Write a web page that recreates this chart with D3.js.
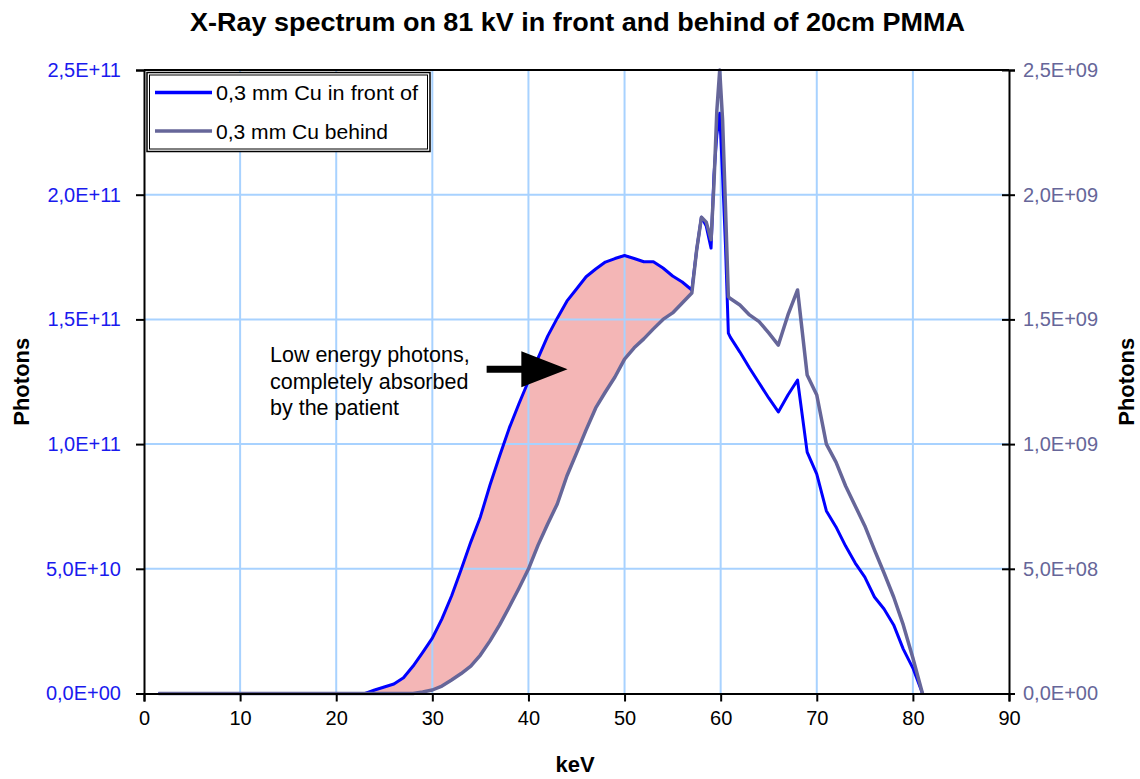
<!DOCTYPE html>
<html>
<head>
<meta charset="utf-8">
<script src="https://cdn.jsdelivr.net/npm/d3@7"></script>
<style>
  body { margin: 0; background: #fff; }
  svg { display: block; }
  text { font-family: "Liberation Sans", Arial, Helvetica, sans-serif; }
</style>
</head>
<body>
<svg id="chart" width="1140" height="779"></svg>
<script>
// Photon energy (keV) sampling points shared by both spectra
const keV = [1.5, 23, 24, 25, 26, 27, 28, 29, 30, 31, 32, 33, 34, 35, 36, 37, 38, 39, 40,
  41, 42, 43, 44, 45, 46, 47, 48, 49, 50, 51, 52, 53, 54, 55, 56, 57,
  57.5, 58, 58.5, 59, 59.3, 59.6, 59.9, 60.2, 60.5, 60.8,
  61, 62, 63, 64, 65, 66, 67, 68, 69, 70, 71, 72, 73, 74, 75, 76, 77, 78, 79, 80, 81];

// Photons with 0.3 mm Cu filter, in front of the phantom (left axis)
const inFront = [0, 0, 0.14e10, 0.26e10, 0.38e10, 0.63e10, 1.10e10, 1.65e10, 2.22e10, 2.99e10, 3.91e10,
  4.97e10, 6.07e10, 7.08e10, 8.36e10, 9.52e10, 10.64e10, 11.61e10, 12.53e10,
  13.45e10, 14.33e10, 15.05e10, 15.73e10, 16.22e10, 16.71e10, 17.02e10, 17.30e10, 17.44e10, 17.56e10,
  17.44e10, 17.31e10, 17.31e10, 17.06e10, 16.74e10, 16.50e10, 16.18e10,
  17.78e10, 19.10e10, 18.74e10, 17.86e10, 20.79e10, 22.39e10, 23.27e10, 20.79e10, 17.98e10, 14.45e10,
  14.29e10, 13.69e10, 13.05e10, 12.45e10, 11.85e10, 11.29e10, 11.97e10, 12.57e10, 9.68e10, 8.80e10,
  7.32e10, 6.68e10, 5.91e10, 5.23e10, 4.67e10, 3.87e10, 3.39e10, 2.75e10, 1.78e10, 1.02e10, 0];

// Photons with 0.3 mm Cu filter, behind 20 cm PMMA (right axis)
const behind = [0, 0, 0, 0, 0, 0, 0, 0.06e8, 0.14e8, 0.30e8, 0.54e8,
  0.80e8, 1.10e8, 1.54e8, 2.11e8, 2.75e8, 3.47e8, 4.21e8, 4.99e8,
  5.95e8, 6.80e8, 7.60e8, 8.72e8, 9.64e8, 10.57e8, 11.45e8, 12.09e8, 12.69e8, 13.41e8,
  13.86e8, 14.22e8, 14.62e8, 15.00e8, 15.26e8, 15.66e8, 16.06e8,
  17.78e8, 19.10e8, 18.90e8, 18.20e8, 20.40e8, 23.35e8, 25.00e8, 23.00e8, 19.51e8, 15.91e8,
  15.84e8, 15.58e8, 15.18e8, 14.91e8, 14.46e8, 13.97e8, 15.18e8, 16.18e8, 12.77e8, 11.97e8,
  10.00e8, 9.28e8, 8.32e8, 7.52e8, 6.72e8, 5.76e8, 4.83e8, 3.87e8, 2.75e8, 1.42e8, 0];

const xTicks = [0, 10, 20, 30, 40, 50, 60, 70, 80, 90];
const leftTicks = [0, 5e10, 1e11, 1.5e11, 2e11, 2.5e11];
const rightTicks = [0, 5e8, 1e9, 1.5e9, 2e9, 2.5e9];
const seriesNames = ["0,3 mm Cu in front of", "0,3 mm Cu behind"];
const titleText = "X-Ray spectrum on 81 kV in front and behind of 20cm PMMA";
const noteLines = ["Low energy photons,", "completely absorbed", "by the patient"];
const absorbedUpTo = 57; // keV where the shaded band ends

const colFront = "#0000ff", colBehind = "#666699", colGrid = "#a8d2ff", colFill = "#f4b6b6";
const L = 144, R = 1009, T = 70, B = 693.5;

const x = d3.scaleLinear().domain([0, 90]).range([L, R]);
const yL = d3.scaleLinear().domain([0, 2.5e11]).range([B, T]);
const yR = d3.scaleLinear().domain([0, 2.5e9]).range([B, T]);

// Excel style scientific label, e.g. 2,5E+11
function sci(v) {
  if (v === 0) return "0,0E+00";
  const e = Math.floor(Math.log10(v) + 1e-9);
  const m = v / Math.pow(10, e);
  return m.toFixed(1).replace(".", ",") + "E+" + String(e).padStart(2, "0");
}

const svg = d3.select("#chart");
const rows = keV.map((k, i) => ({ k, f: inFront[i], b: behind[i] }));

// shaded band between the two spectra (absorbed photons)
const band = d3.area()
  .x(d => x(d.k))
  .y0(d => yR(d.b))
  .y1(d => yL(d.f));
svg.append("path")
  .datum(rows.filter(d => d.k >= 23 && d.k <= absorbedUpTo))
  .attr("d", band)
  .attr("fill", colFill);

// gridlines
const grid = svg.append("g").attr("stroke", colGrid).attr("stroke-width", 2);
grid.selectAll("line.v").data(xTicks.filter(t => t > 0 && t < 90)).join("line")
  .attr("x1", d => x(d)).attr("x2", d => x(d)).attr("y1", T).attr("y2", B);
grid.selectAll("line.h").data(leftTicks.filter(t => t > 0 && t < 2.5e11)).join("line")
  .attr("x1", L).attr("x2", R).attr("y1", d => yL(d)).attr("y2", d => yL(d));

// spectra
svg.append("path").datum(rows)
  .attr("d", d3.line().x(d => x(d.k)).y(d => yL(d.f)))
  .attr("fill", "none").attr("stroke", colFront).attr("stroke-width", 3)
  .attr("stroke-linejoin", "round");
svg.append("path").datum(rows)
  .attr("d", d3.line().x(d => x(d.k)).y(d => yR(d.b)))
  .attr("fill", "none").attr("stroke", colBehind).attr("stroke-width", 3.5)
  .attr("stroke-linejoin", "round");

// axes
const xAxis = svg.append("g").attr("transform", `translate(0,${B})`)
  .call(d3.axisBottom(x).tickValues(xTicks).tickSize(8).tickPadding(9).tickFormat(d3.format("d")));
const leftAxis = svg.append("g").attr("transform", `translate(${L},0)`)
  .call(d3.axisLeft(yL).tickValues(leftTicks).tickSize(8).tickPadding(15).tickFormat(sci));
const rightAxis = svg.append("g").attr("transform", `translate(${R},0)`)
  .call(d3.axisRight(yR).tickValues(rightTicks).tickSize(6).tickPadding(8).tickFormat(sci));
rightAxis.selectAll(".tick line").attr("x1", -7);

[xAxis, leftAxis, rightAxis].forEach(g => {
  g.select(".domain").attr("stroke", "#000").attr("stroke-width", 2);
  g.selectAll(".tick line").attr("stroke", "#000").attr("stroke-width", 2);
  g.selectAll("text").attr("font-size", 20).style("font-family", '"Liberation Sans", Arial, sans-serif');
});
xAxis.selectAll("text").attr("fill", "#000");
leftAxis.selectAll("text").attr("fill", "#1a1aee");
rightAxis.selectAll("text").attr("fill", colBehind);

// top frame line of the plot area
svg.append("line").attr("x1", L).attr("x2", R).attr("y1", T).attr("y2", T)
  .attr("stroke", "#000").attr("stroke-width", 2);

// title and axis titles
svg.append("text").attr("x", 577.5).attr("y", 31).attr("text-anchor", "middle")
  .attr("font-size", 25).attr("font-weight", "bold")
  .attr("textLength", 775).attr("lengthAdjust", "spacingAndGlyphs").text(titleText);
svg.append("text").attr("x", 575).attr("y", 772).attr("text-anchor", "middle")
  .attr("font-size", 22).attr("font-weight", "bold").text("keV");
svg.append("text").attr("transform", `translate(29,${(T + B) / 2}) rotate(-90)`)
  .attr("text-anchor", "middle").attr("font-size", 22).attr("font-weight", "bold").text("Photons");
svg.append("text").attr("transform", `translate(1134,${(T + B) / 2}) rotate(-90)`)
  .attr("text-anchor", "middle").attr("font-size", 22).attr("font-weight", "bold").text("Photons");

// legend
const lg = svg.append("g");
lg.append("rect").attr("x", 147).attr("y", 72.5).attr("width", 283).attr("height", 79)
  .attr("fill", "#fff").attr("stroke", "#000").attr("stroke-width", 1.5);
lg.append("rect").attr("x", 149.5).attr("y", 75).attr("width", 278).attr("height", 74)
  .attr("fill", "none").attr("stroke", "#000").attr("stroke-width", 1);
const legendWidths = [202, 172];
[colFront, colBehind].forEach((c, i) => {
  const yy = 92.5 + i * 38.5;
  lg.append("line").attr("x1", 155).attr("x2", 212).attr("y1", yy).attr("y2", yy)
    .attr("stroke", c).attr("stroke-width", 3.5);
  lg.append("text").attr("x", 216).attr("y", yy + 7.5).attr("font-size", 21)
    .attr("textLength", legendWidths[i]).attr("lengthAdjust", "spacingAndGlyphs")
    .text(seriesNames[i]);
});

// annotation with arrow
const note = svg.append("g");
noteLines.forEach((s, i) => {
  note.append("text").attr("x", 270).attr("y", 362 + i * 26.7).attr("font-size", 21.5).text(s);
});
const ay = yL(1.3e11);
const ax0 = x(35.65), axHead = x(39.26), axTip = x(44.07);
note.append("path")
  .attr("d", `M${ax0},${ay - 3.5}L${axHead},${ay - 3.5}L${axHead},${ay - 18}L${axTip},${ay}` +
             `L${axHead},${ay + 18}L${axHead},${ay + 3.5}L${ax0},${ay + 3.5}Z`)
  .attr("fill", "#000");
</script>
</body>
</html>
